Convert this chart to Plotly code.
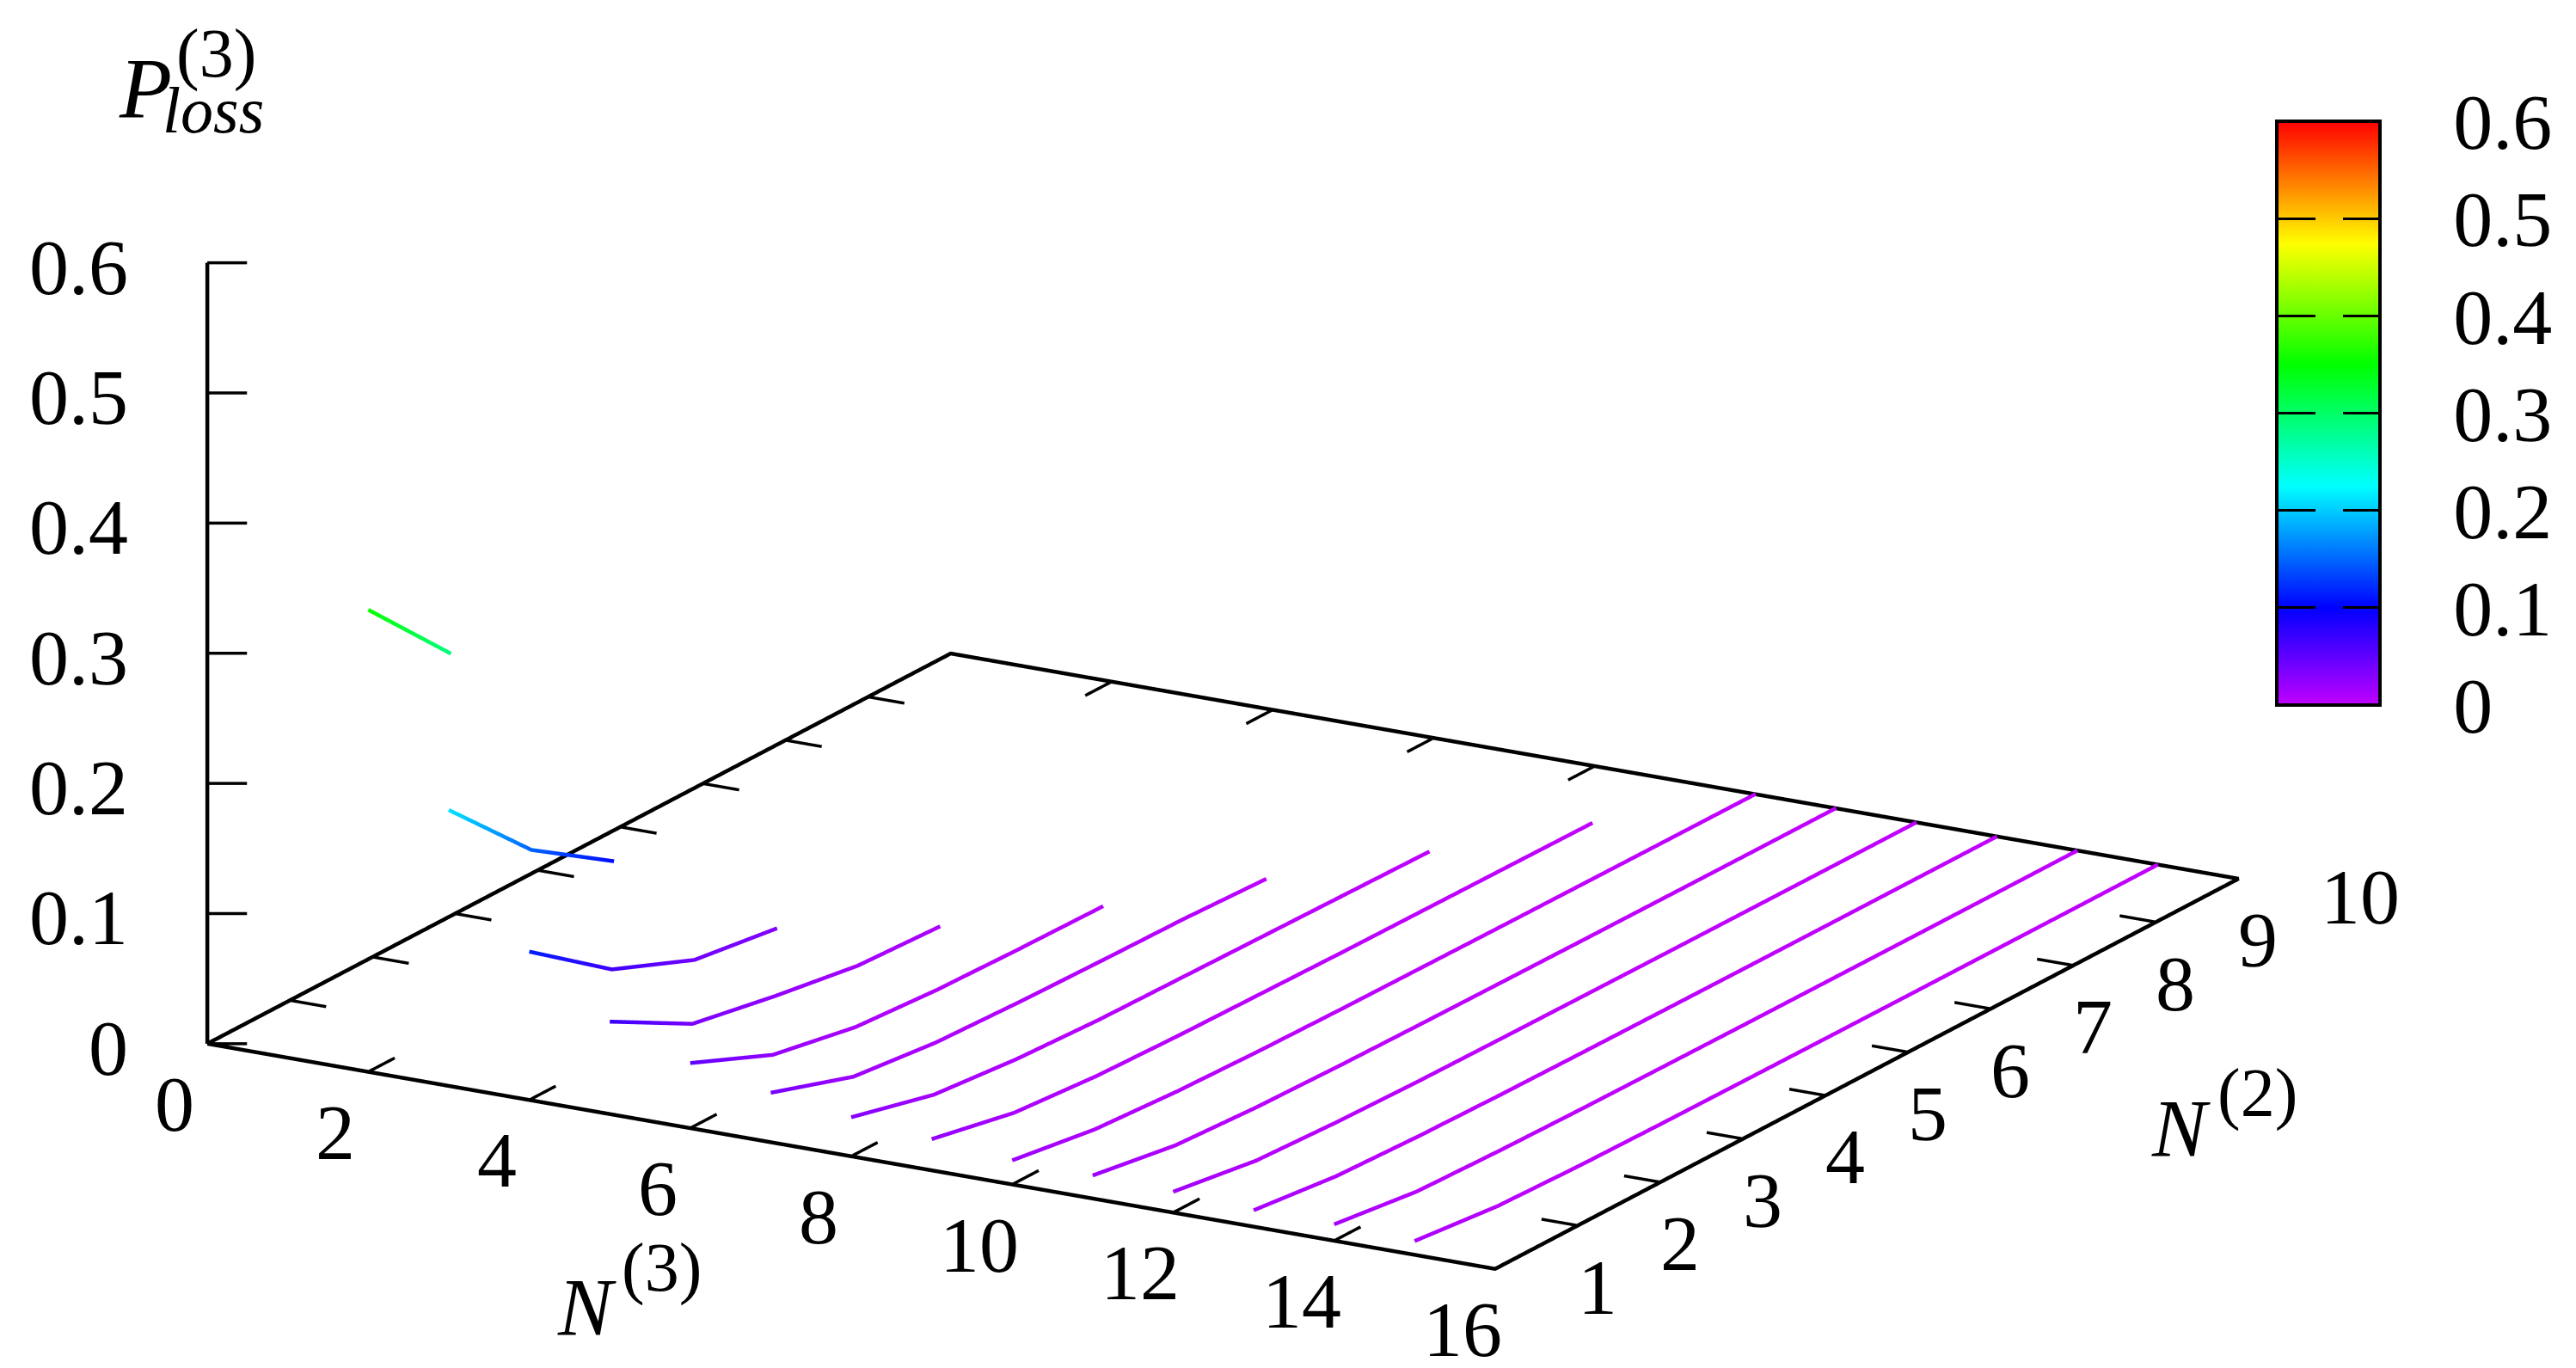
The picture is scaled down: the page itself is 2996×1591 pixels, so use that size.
import plotly.graph_objects as go

W, H = 2996, 1591
SERIF = "Liberation Serif"

# loss probability along each N3 line, N2 = 1, 2, ...
p_n3_02 = [0.355, 0.288]
p_n3_03 = [0.212, 0.148, 0.106]
p_n3_04 = [0.114, 0.067, 0.041, 0.032]
p_n3_05 = [0.071, 0.036, 0.024, 0.014, 0.011]
p_n3_06 = [0.050, 0.023, 0.011, 0.0067, 0.005, 0.004]
p_n3_07 = [0.038, 0.017, 0.010, 0.0075, 0.006, 0.005, 0.0025]
p_n3_08 = [0.030, 0.014, 0.008, 0.005, 0.004, 0.003, 0.002, 0.001]
p_n3_09 = [0.024, 0.011, 0.006, 0.004, 0.003, 0.002, 0.0015, 0.001, 0.0005]
p_n3_10 = [0.0185, 0.009, 0.005, 0.003, 0.002, 0.0015, 0.001, 0.0007, 0.0004, 0.0002]
p_n3_11 = [0.0177, 0.0075, 0.004, 0.0025, 0.0017, 0.0012, 0.0008, 0.0005, 0.0003, 0.0002]
p_n3_12 = [0.016, 0.0065, 0.0035, 0.002, 0.0014, 0.001, 0.0006, 0.0004, 0.0002, 0.0001]
p_n3_13 = [0.0126, 0.0055, 0.003, 0.0018, 0.0012, 0.0008, 0.0005, 0.0003, 0.0002, 0.0001]
p_n3_14 = [0.0126, 0.0045, 0.0025, 0.0015, 0.001, 0.0006, 0.0004, 0.0002, 0.0001, 0.0001]
p_n3_15 = [0.0106, 0.004, 0.002, 0.0012, 0.0008, 0.0005, 0.0003, 0.0002, 0.0001, 0.0001]
n3_lines = [2, 3, 4, 5, 6, 7, 8, 9, 10, 11, 12, 13, 14, 15]
p_lines = [p_n3_02, p_n3_03, p_n3_04, p_n3_05, p_n3_06, p_n3_07, p_n3_08,
           p_n3_09, p_n3_10, p_n3_11, p_n3_12, p_n3_13, p_n3_14, p_n3_15]

n3_ticks = [0, 2, 4, 6, 8, 10, 12, 14, 16]
n2_ticks = [1, 2, 3, 4, 5, 6, 7, 8, 9, 10]
p_ticks = [0, 0.1, 0.2, 0.3, 0.4, 0.5, 0.6]
p_labels = ["0", "0.1", "0.2", "0.3", "0.4", "0.5", "0.6"]

rainbow = [[0, "#c000ff"], [0.1667, "#0000ff"], [0.375, "#00ffff"],
           [0.583, "#00ff00"], [0.79, "#ffff00"], [1, "#ff0000"]]

# colorbar box, in page pixels
CB_LEFT, CB_BOTTOM, CB_W, CB_H = 2648, 820, 120, 679
CB_GAP = "\u00a0\u00a0\u2009"

fig = go.Figure()


def black_path(xs, ys, zs, width=9):
    fig.add_trace(go.Scatter3d(x=xs, y=ys, z=zs, mode="lines", showlegend=False,
                               hoverinfo="skip", line=dict(color="black", width=width)))


# floor frame and z axis
black_path([0, 16, 16, 0, 0], [1, 1, 10, 10, 1], [0, 0, 0, 0, 0])
black_path([0, 0], [1, 1], [0, 0.6])

# ticks point inwards, like the gnuplot original
for t in n3_ticks[1:-1]:
    black_path([t, t], [1, 1.32], [0, 0], 7)
    black_path([t, t], [10, 9.68], [0, 0], 7)
for t in n2_ticks[1:-1]:
    black_path([16, 15.55], [t, t], [0, 0], 7)
    black_path([0, 0.45], [t, t], [0, 0], 7)
for t in p_ticks:
    black_path([0, 0.37], [1, 1.12], [t, t], 7)

for i in range(len(n3_lines)):
    p = p_lines[i]
    fig.add_trace(go.Scatter3d(
        x=[n3_lines[i]] * len(p),
        y=n2_ticks[:len(p)],
        z=p,
        mode="lines",
        showlegend=False,
        line=dict(
            width=9, color=p, colorscale=rainbow, cmin=0, cmax=0.6, showscale=(i == 0),
            colorbar=dict(
                x=CB_LEFT / W, xanchor="left", xpad=0, y=1 - CB_BOTTOM / H, yanchor="bottom", ypad=0,
                lenmode="pixels", len=CB_H, thicknessmode="pixels", thickness=CB_W,
                outlinecolor="black", outlinewidth=4,
                tickmode="array", tickvals=p_ticks, ticktext=[CB_GAP + s for s in p_labels],
                ticks="inside", ticklen=45, tickwidth=3, tickcolor="black",
                tickfont=dict(family=SERIF, size=92, color="black"),
            ),
        ),
    ))

# second, see-through colorbar: gives the left half of the broken tick marks
fig.add_trace(go.Scatter3d(
    x=[0] * len(p_ticks), y=[1] * len(p_ticks), z=[0] * len(p_ticks),
    mode="lines", showlegend=False, hoverinfo="skip",
    line=dict(
        width=1, color=p_ticks, cmin=0, cmax=0.6, showscale=True,
        colorscale=[[0, "rgba(0,0,0,0)"], [1, "rgba(0,0,0,0)"]],
        colorbar=dict(
            x=CB_LEFT / W, xanchor="left", xpad=0, y=1 - CB_BOTTOM / H, yanchor="bottom", ypad=0,
            lenmode="pixels", len=CB_H, thicknessmode="pixels", thickness=45,
            outlinewidth=0, tickmode="array", tickvals=p_ticks[1:-1],
            ticktext=[""] * 5, ticks="inside", ticklen=45, tickwidth=3, tickcolor="black",
        ),
    ),
))

scene_notes = []
for t in n3_ticks:
    scene_notes.append(dict(x=t, y=1, z=0, text=str(t), showarrow=False, xanchor="center",
                            yanchor="middle", xshift=-38, yshift=-70,
                            font=dict(family=SERIF, size=92, color="black")))
for t in n2_ticks:
    scene_notes.append(dict(x=16, y=t, z=0, text=str(t), showarrow=False, xanchor="left",
                            yanchor="middle", xshift=94, yshift=-21,
                            font=dict(family=SERIF, size=92, color="black")))
for t, lab in zip(p_ticks, p_labels):
    scene_notes.append(dict(x=0, y=1, z=t, text=lab, showarrow=False, xanchor="right",
                            yanchor="middle", xshift=-90, yshift=-5,
                            font=dict(family=SERIF, size=92, color="black")))


def paper_text(text, px, py, size):
    fig.add_annotation(x=px / W, y=1 - py / H, xref="paper", yref="paper", text=text,
                       showarrow=False, xanchor="center", yanchor="middle",
                       font=dict(family=SERIF, size=size, color="black"))


paper_text("<i>N</i>", 682, 1521, 95)
paper_text("(3)", 770, 1474, 80)
paper_text("<i>N</i>", 2536, 1313, 95)
paper_text("(2)", 2625, 1271, 80)
paper_text("<i>P</i>", 169, 103, 100)
paper_text("(3)", 251, 62, 80)
paper_text("<i>loss</i>", 248, 128, 76)

hidden = dict(visible=False, showgrid=False, zeroline=False, showticklabels=False,
              showspikes=False, showbackground=False)
# pan the box up and left of the page centre, eye keeps the same viewing direction
center = dict(x=0.1075, y=0.0041, z=-0.1578)
fig.update_layout(
    width=W, height=H, margin=dict(l=0, r=0, t=0, b=0, autoexpand=False),
    paper_bgcolor="white",
    scene=dict(
        domain=dict(x=[0, 1], y=[0, 1]),
        # ranges a hair wider than the frame: lines right on the bound get clipped in patches
        xaxis=dict(range=[-0.02, 16.02], **hidden),
        yaxis=dict(range=[0.98, 10.02], **hidden),
        zaxis=dict(range=[-0.001, 0.601], **hidden),
        aspectmode="manual", aspectratio=dict(x=2.1794, y=2.1837, z=1.202),
        camera=dict(projection=dict(type="orthographic"), up=dict(x=0, y=0, z=1),
                    center=center,
                    eye=dict(x=center["x"] + 0.953, y=center["y"] - 1.651, z=center["z"] + 0.606)),
        annotations=scene_notes,
    ),
)

fig.write_html("out.html", config=dict(displayModeBar=False),
               post_script="document.body.style.margin='0'")
